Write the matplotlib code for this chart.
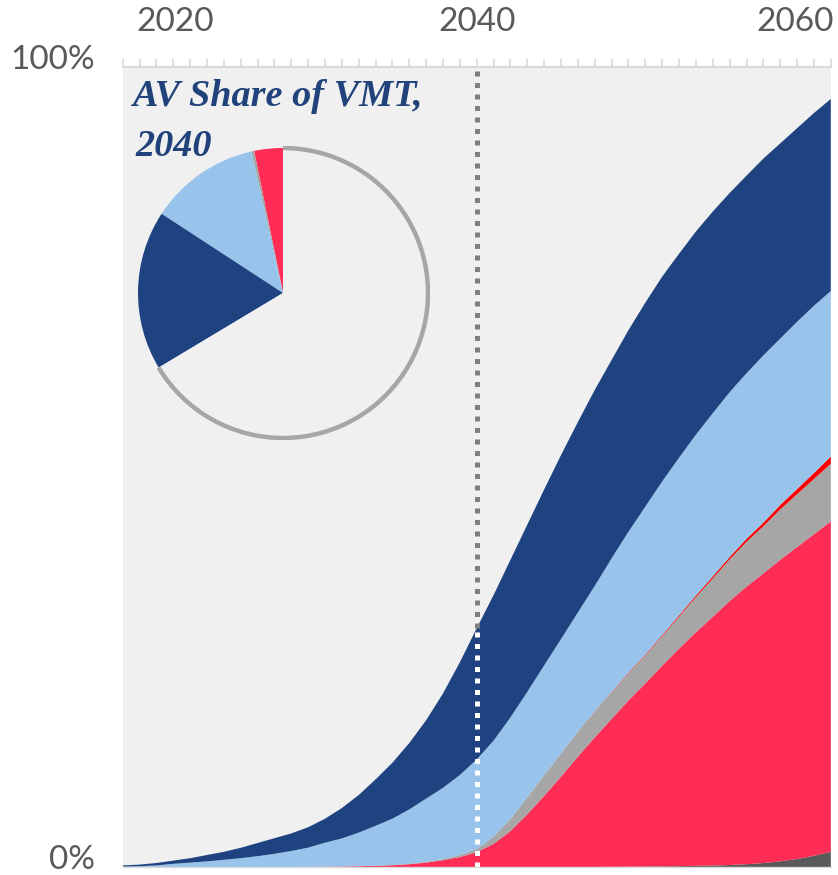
import matplotlib.pyplot as plt
from matplotlib.patches import Arc
from matplotlib.transforms import ScaledTranslation, blended_transform_factory

# share of vehicle miles travelled (%), stacked bottom -> top, 2019..2061
years = list(range(2019, 2062))

dark_gray = [0, 0, 0, 0, 0, 0, 0, 0, 0, 0,
             0, 0, 0, 0, 0, 0, 0, 0, 0, 0,
             0, 0, 0, 0, 0, 0, 0, 0, 0, 0.02,
             0.03, 0.05, 0.07, 0.1, 0.14, 0.18, 0.25, 0.35, 0.5, 0.7,
             1.0, 1.4, 1.9]
pink = [0, 0, 0, 0, 0, 0, 0, 0, 0, 0,
        0, 0.02, 0.04, 0.07, 0.1, 0.15, 0.22, 0.35, 0.55, 0.85,
        1.25, 1.85, 2.9, 4.5, 6.6, 8.9, 11.3, 13.8, 16.2, 18.5,
        20.8, 22.9, 25.1, 27.2, 29.2, 31.1, 33.0, 34.7, 36.2, 37.7,
        39.0, 40.2, 41.3]
gray = [0, 0, 0, 0, 0, 0, 0, 0, 0, 0,
        0, 0, 0, 0, 0, 0, 0.02, 0.05, 0.1, 0.15,
        0.25, 0.4, 0.9, 1.5, 2.1, 2.6, 2.9, 3.1, 3.2, 3.3,
        3.4, 3.5, 3.7, 4.0, 4.4, 4.8, 5.2, 5.6, 5.9, 6.3,
        6.6, 6.9, 7.2]
red = [0, 0, 0, 0, 0, 0, 0, 0, 0, 0,
       0, 0, 0, 0, 0, 0, 0, 0, 0, 0,
       0, 0, 0, 0, 0, 0, 0, 0.02, 0.04, 0.06,
       0.08, 0.1, 0.13, 0.16, 0.2, 0.25, 0.3, 0.37, 0.45, 0.55,
       0.65, 0.75, 0.9]
light_blue = [0.05, 0.1, 0.2, 0.4, 0.55, 0.7, 0.9, 1.1, 1.35, 1.65,
              2.0, 2.4, 3.0, 3.5, 4.2, 5.0, 5.8, 6.8, 7.9, 8.9,
              10.0, 11.2, 12.0, 12.7, 13.2, 13.7, 14.3, 14.9, 15.7, 16.7,
              17.6, 18.5, 19.2, 19.7, 20.1, 20.4, 20.6, 20.7, 20.9, 20.8,
              20.9, 20.9, 20.7]
dark_blue = [0.15, 0.2, 0.3, 0.4, 0.55, 0.8, 1.0, 1.3, 1.65, 1.95,
             2.2, 2.55, 3.0, 3.8, 4.7, 5.8, 7.0, 8.3, 9.8, 11.8,
             14.1, 16.4, 18.2, 19.7, 20.9, 22.0, 23.0, 23.8, 24.5, 24.8,
             25.2, 25.5, 25.6, 25.5, 25.4, 25.2, 24.9, 24.7, 24.6, 24.4,
             24.2, 24.1, 24.0]

colors = ['#595959', '#FF2D55', '#A6A6A6', '#FF0000', '#98C4EC', '#1F4381']

# pie: AV share of VMT in 2040
pie_vals = [3.2, 0.3, 12.3, 17.8, 66.4]
pie_colors = ['#FF2D55', '#A6A6A6', '#98C4EC', '#1F4381', '#F0F0F0']

bg = '#F0F0F0'
txt_gray = '#595959'
title_blue = '#21427A'

fig = plt.figure(figsize=(8.38, 8.75), dpi=100)
ax = fig.add_axes([122.7 / 838, 8 / 875, 708.1 / 838, 800 / 875])
ax.set_facecolor(bg)

ax.stackplot(years, dark_gray, pink, gray, red, light_blue, dark_blue,
             colors=colors, linewidth=0)

ax.set_xlim(2019, 2061)
ax.set_ylim(0, 100)

# dotted marker at 2040: white inside the areas, gray above
i40 = years.index(2040)
total40 = (dark_gray[i40] + pink[i40] + gray[i40] + red[i40]
           + light_blue[i40] + dark_blue[i40])
ax.vlines(2040, 0, total40, colors='white', lw=3.6, linestyles=(0, (1, 1.3)))
ax.vlines(2040, total40, 100, colors='#7F7F7F', lw=3.6, linestyles=(0, (1, 1.3)))

# spines / ticks
for s in ['left', 'right']:
    ax.spines[s].set_visible(False)
ax.spines['top'].set_color('#D9D9D9')
ax.spines['top'].set_linewidth(1.5)
ax.spines['bottom'].set_color('#D9D9D9')
ax.spines['bottom'].set_linewidth(1)

ax.xaxis.tick_top()
ax.set_xticks([])
ax.set_xticks(years, minor=True)
ax.tick_params(axis='x', which='minor', top=True, bottom=False, direction='out',
               length=6, width=1.2, color='#D9D9D9')

ax.set_yticks([0, 100])
ax.set_yticklabels(['0%', '100%'])
ax.tick_params(axis='y', length=0, pad=20, labelsize=24, labelcolor=txt_gray)
for lab in ax.get_yticklabels():
    lab.set_fontfamily('Lato')
    lab.set_transform(lab.get_transform() + ScaledTranslation(0, 0.10, fig.dpi_scale_trans))

# year labels above the axis (placed where the original shows them)
trans = blended_transform_factory(ax.transData, fig.transFigure)
for yr, xpos in [('2020', 2022.1), ('2040', 2040), ('2060', 2058.9)]:
    fig.text(xpos, 1 - 22 / 875, yr, transform=trans, ha='center', va='center',
             fontsize=24, color=txt_gray, family='Lato')

# pie inset
r_px = 147
pax = fig.add_axes([(283 - r_px) / 838, (875 - 293 - r_px) / 875,
                    2 * r_px / 838, 2 * r_px / 875])
pax.pie(pie_vals, colors=pie_colors, startangle=90, counterclock=True,
        radius=145 / 147, wedgeprops=dict(linewidth=0))
theta_start = 90 + 360 * sum(pie_vals[:-1]) / 100
pax.add_patch(Arc((0, 0), 2 * 145 / 147, 2 * 145 / 147, theta1=theta_start,
                  theta2=90, color='#A6A6A6', lw=3.2))
pax.set_xlim(-1, 1)
pax.set_ylim(-1, 1)
pax.set_aspect('equal')
pax.axis('off')

fig.text(133 / 838, 1 - 97 / 875, 'AV Share of VMT,', ha='left', va='center',
         fontsize=27.5, fontweight='bold', fontstyle='italic',
         family='Liberation Serif', color=title_blue)
fig.text(135 / 838, 1 - 146 / 875, '2040', ha='left', va='center',
         fontsize=27.5, fontweight='bold', fontstyle='italic',
         family='Liberation Serif', color=title_blue)

plt.savefig('out.png', dpi=100, facecolor='white')
